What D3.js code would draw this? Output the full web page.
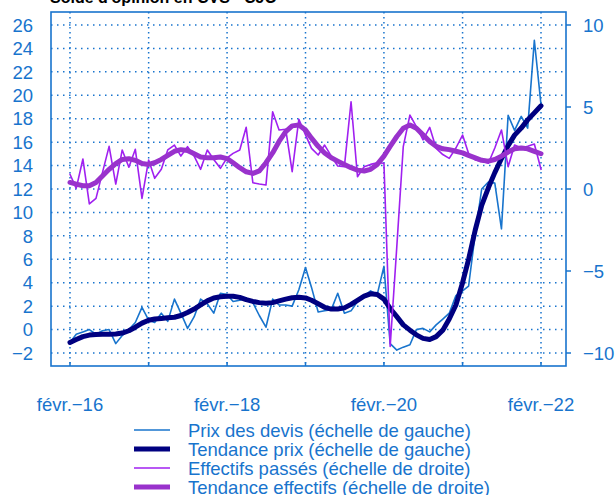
<!DOCTYPE html>
<html><head><meta charset="utf-8">
<script src="https://cdn.jsdelivr.net/npm/d3@7"></script>
<style>
body{margin:0;background:#fff}
svg{display:block}
text{font-family:"Liberation Sans",Arial,Helvetica,sans-serif}
</style>
</head><body>
<svg id="c" width="616" height="495"></svg>
<script>
// ---------- data ----------
const title = "Solde d'opinion en CVS - CJO";
const firstMonth = new Date(2016, 1, 1);   // févr. 2016
const lastMonth  = new Date(2022, 1, 1);   // févr. 2022

const prixDevis = [
 -1.1,-0.4,-0.2,0.0,-0.4,-0.1,0.0,-1.2,-0.5,0.0,0.6,1.9,
 0.8,0.6,1.4,0.7,2.6,1.4,0.1,1.1,2.6,2.2,1.4,3.1,
 3.0,2.4,2.5,2.7,2.3,1.2,0.2,2.6,2.1,2.1,2.0,3.4,
 5.3,3.6,1.5,1.6,1.7,3.1,1.4,1.6,2.4,2.9,3.3,3.0,
 5.4,-1.2,-1.75,-1.5,-1.3,0.0,0.1,-0.2,0.4,0.9,1.4,2.9,
 3.3,3.7,8.2,12.0,12.6,12.5,8.6,18.3,17.0,18.2,17.2,24.7,
 19.2];
const tendancePrix = [
 -1.1,-0.85,-0.6,-0.47,-0.42,-0.4,-0.4,-0.38,-0.3,-0.1,0.2,0.55,
 0.8,0.9,0.95,1.0,1.05,1.2,1.45,1.75,2.1,2.45,2.7,2.8,
 2.85,2.85,2.75,2.55,2.4,2.3,2.25,2.3,2.45,2.6,2.72,2.75,
 2.7,2.5,2.2,1.9,1.75,1.75,1.85,2.15,2.5,2.85,3.05,3.0,
 2.6,1.8,1.1,0.4,-0.05,-0.45,-0.75,-0.85,-0.6,-0.05,0.9,2.1,
 4.0,6.0,8.5,10.6,12.1,13.4,14.6,15.7,16.6,17.2,17.9,18.5,
 19.1];
const effectifsPasses = [
 0.9,0.04,1.83,-0.91,-0.57,1.0,2.6,0.3,2.38,1.33,2.42,-0.57,
 1.77,0.65,1.2,2.38,2.68,2.01,2.58,2.0,1.2,2.38,1.8,1.26,
 1.9,2.17,2.38,3.76,0.38,0.3,0.24,4.71,3.6,3.64,1.06,4.25,
 3.3,2.48,2.07,2.68,2.0,1.4,1.36,5.32,0.75,1.36,1.5,1.6,
 1.57,-9.6,-3.5,2.58,4.51,3.8,3.0,3.76,2.48,2.1,1.87,2.5,
 3.29,2.17,1.77,1.7,1.57,2.5,3.6,1.36,2.68,2.5,2.6,2.74,
 1.2];
const tendanceEffectifs = [
 0.4,0.3,0.2,0.2,0.4,0.8,1.2,1.55,1.8,1.85,1.75,1.55,
 1.5,1.6,1.8,2.05,2.3,2.4,2.35,2.15,1.95,1.9,1.9,1.95,
 1.85,1.6,1.3,1.05,0.95,1.1,1.6,2.2,2.9,3.5,3.85,3.9,
 3.6,3.1,2.6,2.2,1.9,1.7,1.5,1.3,1.15,1.1,1.2,1.5,
 2.0,2.6,3.2,3.7,3.9,3.7,3.3,2.9,2.6,2.45,2.4,2.3,
 2.2,2.05,1.9,1.75,1.7,1.8,2.0,2.25,2.45,2.5,2.45,2.3,
 2.15];

const leftTicks  = [-2,0,2,4,6,8,10,12,14,16,18,20,22,24,26];
const rightTicks = [-10,-5,0,5,10];
const gridYears  = [2016,2017,2018,2019,2020,2021,2022];
const labelYears = [2016,2018,2020,2022];
const legendLabels = [
 "Prix des devis (échelle de gauche)",
 "Tendance prix (échelle de gauche)",
 "Effectifs passés (échelle de droite)",
 "Tendance effectifs (échelle de droite)"];

// ---------- styles ----------
const C_AXIS = "#1874CD";
const C_PRIX = "#1874CD", C_TPRIX = "#000080", C_EFF = "#A020F0", C_TEFF = "#9932CC";
const FS = 18.5;

// ---------- scales ----------
const months = d3.timeMonth.range(firstMonth, d3.timeMonth.offset(lastMonth, 1));
const x  = d3.scaleTime().domain([firstMonth, lastMonth]).range([70, 541]);
const yL = d3.scaleLinear().domain([-2, 26]).range([353, 25]);
const yR = d3.scaleLinear().domain([-10, 10]).range([353, 25]);
const box = {l: 51, r: 566, t: 12, b: 366};

const svg = d3.select("#c");

// title
svg.append("text").attr("x", 50).attr("y", 3).attr("font-weight", "bold")
   .attr("font-size", 16).attr("fill", "#000").text(title);

// grid
const g = svg.append("g");
g.selectAll(".hg").data(leftTicks).join("line")
  .attr("x1", box.l).attr("x2", box.r)
  .attr("y1", d => yL(d)).attr("y2", d => yL(d))
  .attr("stroke", C_AXIS).attr("stroke-width", 1.5).attr("stroke-dasharray", "1.5 4.5");
g.selectAll(".vg").data(gridYears).join("line")
  .attr("x1", d => x(new Date(d,1,1))).attr("x2", d => x(new Date(d,1,1)))
  .attr("y1", box.t).attr("y2", box.b)
  .attr("stroke", C_AXIS).attr("stroke-width", 1.5).attr("stroke-dasharray", "1.5 3.5");

// series
function drawLine(vals, scale, color, w) {
  svg.append("path").datum(vals)
    .attr("fill", "none").attr("stroke", color).attr("stroke-width", w)
    .attr("stroke-linejoin", "round").attr("stroke-linecap", "round")
    .attr("d", d3.line().x((d, i) => x(months[i])).y(d => scale(d)));
}
drawLine(prixDevis, yL, C_PRIX, 1.6);
drawLine(tendancePrix, yL, C_TPRIX, 5);
drawLine(effectifsPasses, yR, C_EFF, 1.6);
drawLine(tendanceEffectifs, yR, C_TEFF, 5);

// box
svg.append("rect").attr("x", box.l).attr("y", box.t)
  .attr("width", box.r - box.l).attr("height", box.b - box.t)
  .attr("fill", "none").attr("stroke", C_AXIS).attr("stroke-width", 1.6);

// left axis labels
svg.append("g").selectAll("text").data(leftTicks).join("text")
  .attr("x", 33).attr("y", d => yL(d)).attr("dy", "0.36em")
  .attr("text-anchor", "end").attr("font-size", FS).attr("fill", C_AXIS)
  .text(d => d < 0 ? "\u2212" + Math.abs(d) : d);

// right axis
const ra = svg.append("g");
ra.selectAll("line").data(rightTicks).join("line")
  .attr("x1", box.r).attr("x2", box.r + 5)
  .attr("y1", d => yR(d)).attr("y2", d => yR(d))
  .attr("stroke", C_AXIS).attr("stroke-width", 1.5);
ra.selectAll("text").data(rightTicks).join("text")
  .attr("x", 583).attr("y", d => yR(d)).attr("dy", "0.36em")
  .attr("font-size", FS).attr("fill", C_AXIS)
  .text(d => d < 0 ? "\u2212" + Math.abs(d) : d);

// bottom ticks (inside) and labels
const ba = svg.append("g");
ba.selectAll("line").data(gridYears).join("line")
  .attr("x1", d => x(new Date(d,1,1))).attr("x2", d => x(new Date(d,1,1)))
  .attr("y1", box.b).attr("y2", box.b - 4)
  .attr("stroke", C_AXIS).attr("stroke-width", 1.5);
ba.selectAll("text").data(labelYears).join("text")
  .attr("x", d => x(new Date(d,1,1))).attr("y", 411)
  .attr("text-anchor", "middle").attr("font-size", FS).attr("fill", C_AXIS)
  .text(d => "févr.\u2212" + String(d).slice(2));

// legend
const legColors = [C_PRIX, C_TPRIX, C_EFF, C_TEFF];
const legWidths = [1.6, 5, 1.6, 5];
const lg = svg.append("g");
legendLabels.forEach((lab, i) => {
  const yy = 430 + i * 19;
  lg.append("line").attr("x1", 134).attr("x2", 170).attr("y1", yy).attr("y2", yy)
    .attr("stroke", legColors[i]).attr("stroke-width", legWidths[i]);
  lg.append("text").attr("x", 188).attr("y", yy).attr("dy", "0.36em")
    .attr("font-size", FS).attr("fill", C_AXIS).text(lab);
});
</script>
</body></html>
